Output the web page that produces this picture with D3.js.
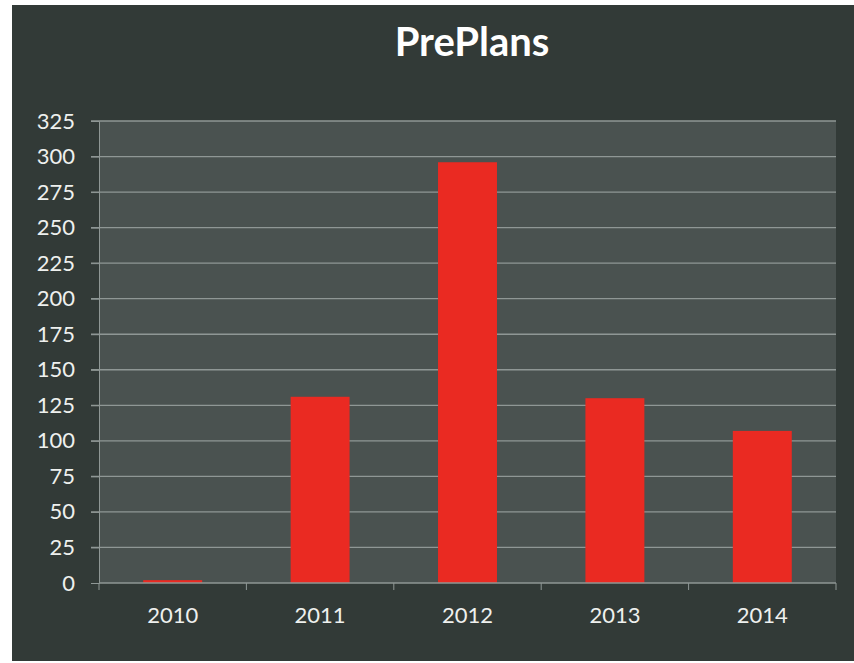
<!DOCTYPE html>
<html><head><meta charset="utf-8">
<script src="https://cdn.jsdelivr.net/npm/d3@7"></script>
<style>
html,body{margin:0;padding:0;background:#fff;}
svg{display:block;}
</style></head>
<body>
<script>
const categories = ["2010","2011","2012","2013","2014"];
const values = [2, 131, 296, 130, 107];
const yTicks = [0,25,50,75,100,125,150,175,200,225,250,275,300,325];
const title = "PrePlans";

const W = 854, H = 663;
const svg = d3.select("body").append("svg").attr("width", W).attr("height", H);

// outer chart background
svg.append("rect").attr("x", 12).attr("y", 5).attr("width", 842).attr("height", 656).attr("fill", "#323a37");

const m = {left: 99, top: 121, right: 836, bottom: 583};
const x = d3.scaleBand().domain(categories).range([m.left, m.right]).paddingInner(0.6).paddingOuter(0.3);
const y = d3.scaleLinear().domain([0, 325]).range([m.bottom, m.top]);

// plot area
svg.append("rect").attr("x", m.left).attr("y", m.top).attr("width", m.right - m.left).attr("height", m.bottom - m.top).attr("fill", "#4a5250");

// gridlines
svg.append("g").selectAll("line").data(yTicks.filter(d => d > 0)).join("line")
  .attr("x1", m.left - 8).attr("x2", m.right)
  .attr("y1", d => y(d)).attr("y2", d => y(d))
  .attr("stroke", "#8f9795").attr("stroke-width", 1.3);

// bars
svg.append("g").selectAll("rect").data(values).join("rect")
  .attr("x", (d, i) => x(categories[i]))
  .attr("width", x.bandwidth())
  .attr("y", d => y(d))
  .attr("height", d => y(0) - y(d))
  .attr("fill", "#ea2a22");

// y axis
const yAxis = svg.append("g").attr("transform", `translate(${m.left},0)`)
  .call(d3.axisLeft(y).tickValues(yTicks).tickSize(8).tickPadding(16));
yAxis.select(".domain").attr("stroke", "#8f9795");
yAxis.selectAll(".tick line").attr("stroke", "#8f9795");
yAxis.selectAll("text").attr("fill", "#eef0ee").style("font-family", "Lato, 'Open Sans', sans-serif").style("font-size", "22px");

// x axis
const xOuter = d3.scaleLinear().domain([0, categories.length]).range([m.left, m.right]);
const xAxis = svg.append("g").attr("transform", `translate(0,${m.bottom})`);
xAxis.append("line").attr("x1", m.left).attr("x2", m.right).attr("stroke", "#8f9795").attr("stroke-width", 1.3);
xAxis.selectAll("line.tk").data(d3.range(categories.length + 1)).join("line").attr("class", "tk")
  .attr("x1", d => xOuter(d)).attr("x2", d => xOuter(d)).attr("y1", 0).attr("y2", 7)
  .attr("stroke", "#8f9795");
xAxis.selectAll("text").data(categories).join("text")
  .attr("x", d => x(d) + x.bandwidth() / 2).attr("y", 40)
  .attr("text-anchor", "middle")
  .attr("fill", "#eef0ee").style("font-family", "Lato, 'Open Sans', sans-serif").style("font-size", "22px")
  .text(d => d);

// title
svg.append("text").attr("x", 472).attr("y", 56).attr("text-anchor", "middle")
  .attr("fill", "#ffffff").style("font-family", "Lato, 'Open Sans', sans-serif").style("font-weight", "bold").style("font-size", "40px")
  .text(title);
</script>
</body></html>
